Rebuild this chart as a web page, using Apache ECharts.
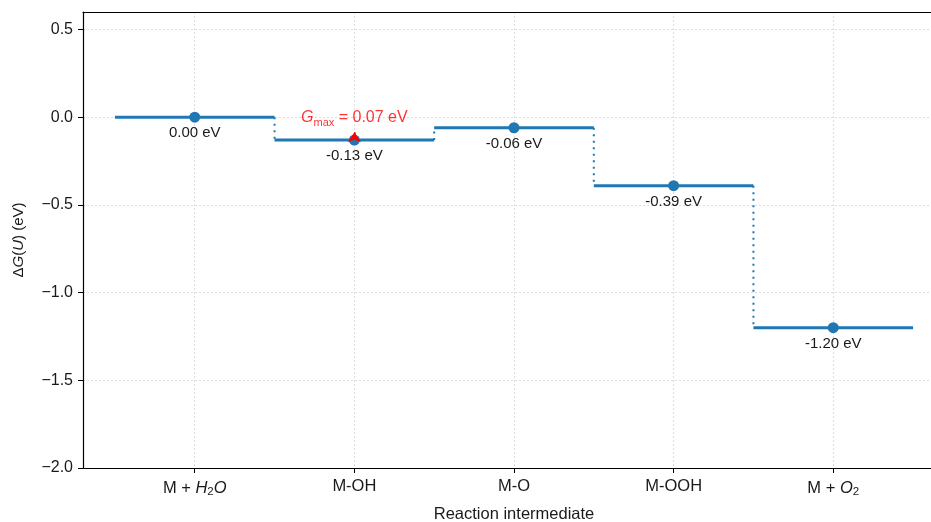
<!DOCTYPE html>
<html>
<head>
<meta charset="utf-8">
<script src="https://cdn.jsdelivr.net/npm/echarts@6/dist/echarts.min.js"></script>
<style>html,body{margin:0;padding:0;background:#fff;overflow:hidden}#c{width:931px;height:522px}</style>
</head>
<body>
<div id="c"></div>
<script>
const categories = ['M + H2O', 'M-OH', 'M-O', 'M-OOH', 'M + O2'];
const values = [0.00, -0.13, -0.06, -0.39, -1.20];
const gmaxValue = 0.07;
const gmaxStep = 1;
const gmaxArrowTop = -0.085;
const yTicks = [-2.0, -1.5, -1.0, -0.5, 0.0, 0.5];
const xTicks = categories.map((c, i) => i);

const FONT = '"Liberation Sans", Arial, Helvetica, sans-serif';
const BLUE = '#1f77b4';
const TXT = '#1a1a1a';

function catRich(s) {
  return s.replace('H2O', '{i|H}{s|2}{i|O}').replace(/O2$/, '{i|O}{s|2}');
}

const series = [];
values.forEach((v, i) => {
  series.push({
    type: 'line', silent: true, symbol: 'none', z: 3,
    data: [[i - 0.5, v], [i + 0.5, v]],
    lineStyle: { color: BLUE, width: 3, cap: 'butt' }
  });
});
for (let i = 0; i < values.length - 1; i++) {
  series.push({
    type: 'line', silent: true, symbol: 'none', z: 2,
    data: [[i + 0.5, values[i]], [i + 0.5, values[i + 1]]],
    lineStyle: { color: BLUE, width: 2, type: [2, 4.5] }
  });
}
series.push({
  type: 'scatter', z: 4, symbol: 'circle', symbolSize: 11,
  itemStyle: { color: BLUE, opacity: 1 },
  data: values.map((v, i) => [i, v]),
  label: {
    show: true, position: 'bottom', distance: 3,
    formatter: p => p.value[1].toFixed(2) + ' eV',
    fontFamily: FONT, fontSize: 15, color: TXT
  }
});
series.push({
  type: 'scatter', z: 6, symbolSize: 0,
  data: [[gmaxStep, values[gmaxStep]]],
  label: {
    show: true, position: 'top', distance: 12,
    formatter: '{g|G}{s|max}{n| = ' + gmaxValue.toFixed(2) + ' eV}',
    color: 'red',
    rich: {
      g: { fontFamily: FONT, fontStyle: 'italic', fontSize: 16, color: 'red', verticalAlign: 'middle', lineHeight: 20 },
      s: { fontFamily: FONT, fontSize: 11, color: 'red', verticalAlign: 'bottom', lineHeight: 20 },
      n: { fontFamily: FONT, fontSize: 16, color: 'red', verticalAlign: 'middle', lineHeight: 20 }
    }
  },
  markLine: {
    silent: true, symbol: ['none', 'arrow'], symbolSize: [10, 10],
    label: { show: false },
    lineStyle: { color: 'red', width: 1.5, type: 'solid' },
    data: [[{ coord: [gmaxStep, values[gmaxStep]] }, { coord: [gmaxStep, gmaxArrowTop] }]]
  }
});

const chart = echarts.init(document.getElementById('c'), null, { renderer: 'canvas', width: 931, height: 522 });
chart.setOption({
  animation: false,
  backgroundColor: '#fff',
  grid: { left: 83, top: 12, width: 862, height: 456, containLabel: false, outerBoundsMode: 'none' },
  xAxis: [{
    type: 'value', min: -0.7, max: 4.7, position: 'bottom',
    name: 'Reaction intermediate', nameLocation: 'middle', nameGap: 38,
    nameTextStyle: { fontFamily: FONT, fontSize: 16.5, color: TXT },
    axisLine: { show: true, onZero: false, lineStyle: { color: '#000', width: 1.2 } },
    axisTick: { show: true, length: 5, customValues: xTicks, lineStyle: { color: '#000', width: 1 } },
    axisLabel: {
      customValues: xTicks, margin: 10, fontFamily: FONT, fontSize: 16.5, color: TXT,
      formatter: v => catRich(categories[Math.round(v)] || ''),
      rich: {
        i: { fontFamily: FONT, fontStyle: 'italic', fontSize: 16.5, color: TXT, verticalAlign: 'middle', lineHeight: 20 },
        s: { fontFamily: FONT, fontSize: 11.5, color: TXT, verticalAlign: 'bottom', lineHeight: 20 }
      }
    },
    splitLine: { show: true, lineStyle: { color: '#d4d4d4', width: 0.8, type: [2, 2] } }
  }, {
    type: 'value', min: -0.7, max: 4.7, position: 'top',
    axisLine: { show: true, onZero: false, lineStyle: { color: '#000', width: 1.2 } },
    axisTick: { show: false }, axisLabel: { show: false }, splitLine: { show: false }
  }],
  yAxis: {
    type: 'value', min: -2.0, max: 0.6,
    name: '{d|Δ}{i|G}{n|(}{i|U}{n|) (eV)}', nameLocation: 'middle', nameGap: 57, nameRotate: 90,
    nameTextStyle: {
      fontFamily: FONT, fontSize: 15, color: TXT,
      rich: {
        d: { fontFamily: FONT, fontSize: 15, color: TXT },
        i: { fontFamily: FONT, fontStyle: 'italic', fontSize: 15, color: TXT },
        n: { fontFamily: FONT, fontSize: 15, color: TXT }
      }
    },
    axisLine: { show: true, onZero: false, lineStyle: { color: '#000', width: 1.2 } },
    axisTick: { show: true, length: 5, customValues: yTicks, lineStyle: { color: '#000', width: 1 } },
    axisLabel: {
      customValues: yTicks, margin: 10, fontFamily: FONT, fontSize: 16, color: TXT,
      formatter: v => v.toFixed(1).replace('-', '\u2212')
    },
    splitLine: { show: true, lineStyle: { color: '#d4d4d4', width: 0.8, type: [2, 2] } }
  },
  series: series
});
</script>
</body>
</html>
